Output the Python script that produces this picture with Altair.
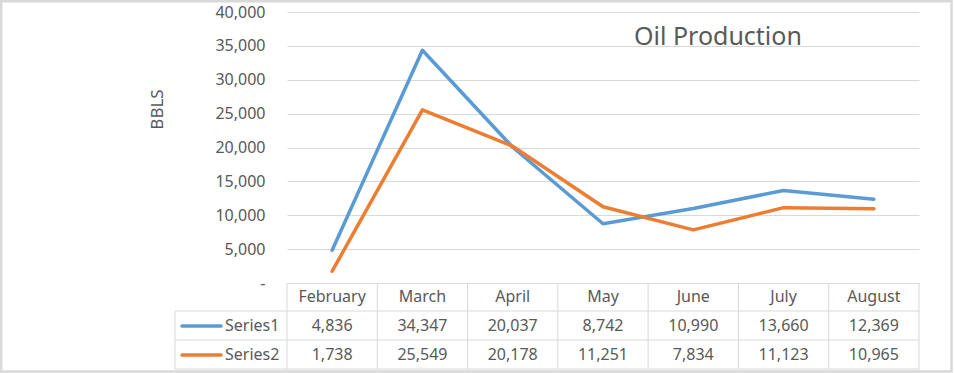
import altair as alt
import pandas as pd

months = ["February", "March", "April", "May", "June", "July", "August"]
series_names = ["Series1", "Series2"]
series1 = [4836, 34347, 20037, 8742, 10990, 13660, 12369]
series2 = [1738, 25549, 20178, 11251, 7834, 11123, 10965]
colors = ["#5B9BD5", "#ED7D31"]
y_ticks = [0, 5000, 10000, 15000, 20000, 25000, 30000, 35000, 40000]

FONT = "Noto Sans"
TXT = "#595959"
GRID = "#d9d9d9"

df = pd.DataFrame({
    "month": months * 2,
    "series": [series_names[0]] * len(months) + [series_names[1]] * len(months),
    "value": series1 + series2,
})
df["label"] = df["value"].map(lambda v: f"{v:,}")
mdf = pd.DataFrame({"month": months})
one = pd.DataFrame({"k": [0]})

xscale = alt.Scale(type="band", domain=months, paddingInner=0, paddingOuter=0)


def xenc(bp=0.5):
    return alt.X("month:N", sort=months, scale=xscale, axis=None, bandPosition=bp)


color = alt.Color("series:N", scale=alt.Scale(domain=series_names, range=colors), legend=None)

lines = alt.Chart(df).mark_line(strokeWidth=3.5, strokeCap="round", strokeJoin="round").encode(
    x=xenc(0.5),
    y=alt.Y(
        "value:Q",
        scale=alt.Scale(domain=[0, 40000], nice=False),
        axis=alt.Axis(
            values=y_ticks,
            labelExpr="datum.value == 0 ? '-' : format(datum.value, ',')",
            title="BBLS",
            titleX=-130,
            titleY=97,
            titleAngle=270,
            titleAlign="center",
            titleBaseline="middle",
        ),
    ),
    color=color,
    order=alt.Order("series:N"),
)

header = alt.Chart(mdf).mark_text(font=FONT, fontSize=16, color=TXT, baseline="middle").encode(
    x=xenc(0.5), y=alt.value(285), text="month:N"
)

row1 = alt.Chart(df).transform_filter(alt.datum.series == series_names[0]).mark_text(
    font=FONT, fontSize=16, color=TXT, baseline="middle"
).encode(x=xenc(0.5), y=alt.value(313.5), text="label:N")

row2 = alt.Chart(df).transform_filter(alt.datum.series == series_names[1]).mark_text(
    font=FONT, fontSize=16, color=TXT, baseline="middle"
).encode(x=xenc(0.5), y=alt.value(342.5), text="label:N")

vsep = alt.Chart(mdf).mark_rule(color=GRID, strokeWidth=1).encode(
    x=xenc(0), y=alt.value(271), y2=alt.value(357)
)
vsep_last = alt.Chart(mdf).transform_filter(alt.datum.month == months[-1]).mark_rule(
    color=GRID, strokeWidth=1
).encode(x=xenc(1), y=alt.value(271), y2=alt.value(357))
vsep_left = alt.Chart(one).mark_rule(color=GRID, strokeWidth=1).encode(
    x=alt.value(-112), y=alt.value(299), y2=alt.value(357)
)


def hrule(y):
    return alt.Chart(one).mark_rule(color=GRID, strokeWidth=1).encode(
        x=alt.value(-112), x2=alt.value(632), y=alt.value(y)
    )


def key(i, y):
    sd = pd.DataFrame({"series": [series_names[i]]})
    k = alt.Chart(sd).mark_rule(strokeWidth=3.5, strokeCap="round").encode(
        x=alt.value(-105), x2=alt.value(-66), y=alt.value(y), color=color
    )
    t = alt.Chart(sd).mark_text(font=FONT, fontSize=16, color=TXT, align="left", baseline="middle").encode(
        x=alt.value(-62), y=alt.value(y - 0.5), text="series:N"
    )
    return k + t


title = alt.Chart(one).mark_text(
    text="Oil Production", font=FONT, fontSize=25, color=TXT, align="left", baseline="alphabetic"
).encode(x=alt.value(347), y=alt.value(33))

border = alt.Chart(one).mark_rect(filled=False, stroke="#d9d9d9", strokeWidth=2.5).encode(
    x=alt.value(-285.8), x2=alt.value(664.5), y=alt.value(-10.8), y2=alt.value(359.6)
)

chart = alt.layer(
    border, vsep, vsep_last, vsep_left, hrule(299), hrule(328), hrule(357),
    lines, header, row1, row2, key(0, 314), key(1, 343), title,
).properties(
    width=632,
    height=271,
    padding={"left": 287, "top": 12, "right": 35, "bottom": 90},
    autosize="none",
    background="white",
).configure_view(stroke=None).configure_axis(
    grid=True,
    gridColor=GRID,
    gridWidth=1,
    domain=False,
    ticks=False,
    labelPadding=22,
    labelFont=FONT,
    labelFontSize=16,
    labelColor=TXT,
    titleFont=FONT,
    titleFontSize=17,
    titleFontWeight="normal",
    titleColor=TXT,
)

chart.save("out.html", embed_options={"renderer": "svg", "actions": False})
